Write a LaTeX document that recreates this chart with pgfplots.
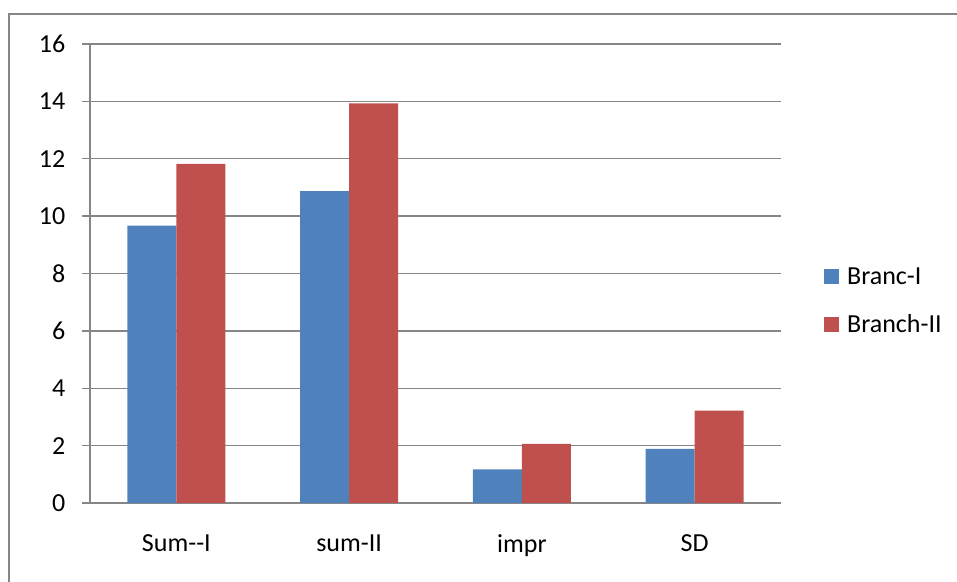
\documentclass[border=0pt]{standalone}
\usepackage{fontspec}
\setmainfont{Carlito}
\usepackage{pgfplots}
\pgfplotsset{compat=1.18}
\definecolor{barblue}{RGB}{79,129,189}
\definecolor{barred}{RGB}{192,80,77}
\definecolor{gridgray}{RGB}{134,134,134}
\newcommand{\lbl}{\fontsize{19.5pt}{23pt}\selectfont}
\begin{document}
\begin{tikzpicture}
\begin{axis}[
    at={(67.5pt,59.25pt)}, anchor=south west,
    scale only axis,
    width=518.25pt, height=344.25pt,
    ybar=0pt,
    bar width=36.75pt,
    xmin=-0.5, xmax=3.5,
    ymin=0, ymax=16,
    xtick={0,1,2,3},
    xticklabels={Sum-{}-I, sum-II, impr, SD},
    minor xtick={-0.5,0.5,1.5,2.5,3.5},
    ytick={0,2,...,16},
    axis lines*=left,
    axis line style={gridgray, line width=1pt, -},
    ymajorgrids,
    grid style={gridgray, line width=1pt},
    tick align=outside,
    major tick length=6pt,
    minor tick length=6pt,
    xtick style={draw=none},
    minor x tick style={gridgray, line width=1pt},
    ytick style={gridgray, line width=1pt},
    tick label style={font=\lbl, text=black},
    xticklabel style={yshift=-14pt},
    yticklabel style={xshift=-9pt},
    /pgf/number format/assume math mode=true,
    legend style={draw=none, fill=none, font=\lbl,
        at={(1.062,0.514)}, anchor=north west,
        row sep=21pt, inner sep=0pt,
        nodes={inner sep=0pt},
        /tikz/every odd column/.append style={column sep=6pt}},
    legend cell align=left,
    legend image code/.code={\draw[#1,draw=none] (0pt,-5.6pt) rectangle (11.25pt,5.6pt);},
    clip=false
]
\addplot[fill=barblue, draw=none] coordinates {(0,9.67) (1,10.87) (2,1.17) (3,1.89)};
\addplot[fill=barred, draw=none] coordinates {(0,11.82) (1,13.93) (2,2.06) (3,3.22)};
\legend{Branc-I, Branch-II}
\end{axis}
\draw[gridgray, line width=1.5pt] (6.75pt,-5pt) -- (6.75pt,426pt) -- (730pt,426pt);
\pgfresetboundingbox
\useasboundingbox (0,0) rectangle (717.75pt,436.5pt);
\end{tikzpicture}
\end{document}
